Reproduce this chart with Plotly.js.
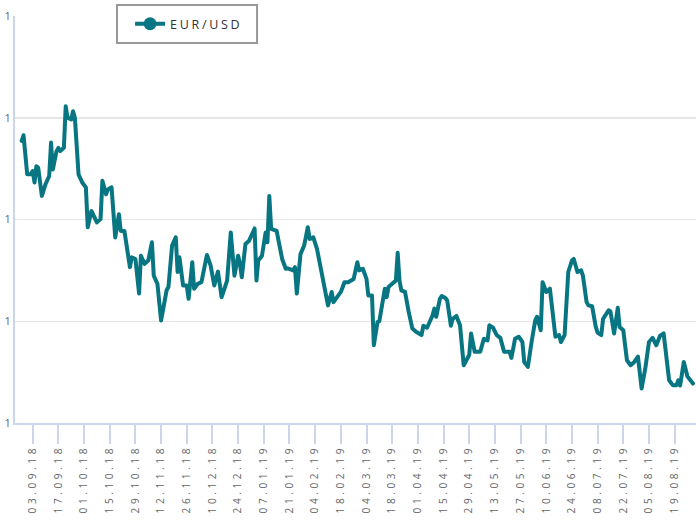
<!DOCTYPE html>
<html>
<head>
<meta charset="utf-8">
<script src="https://cdn.plot.ly/plotly-3.0.1.min.js"></script>
<style>
  html, body { margin: 0; padding: 0; background: #fff; }
  #chart { width: 696px; height: 523px; }
  .legendtext { letter-spacing: 2.7px; }
  .xtick text { letter-spacing: 3.6px; }
  .scatterlayer .js-line { stroke-linejoin: round; stroke-linecap: round; }
</style>
</head>
<body>
<div id="chart"></div>
<script>
// EUR/USD rate
const dates = [
  '2018-08-28','2018-08-29','2018-08-31','2018-09-02','2018-09-03','2018-09-04','2018-09-05','2018-09-06','2018-09-08','2018-09-10',
  '2018-09-12','2018-09-13','2018-09-14','2018-09-16','2018-09-17','2018-09-18','2018-09-20','2018-09-21','2018-09-22','2018-09-24',
  '2018-09-25','2018-09-26','2018-09-28','2018-09-30','2018-10-02','2018-10-03','2018-10-05','2018-10-08','2018-10-10','2018-10-11',
  '2018-10-13','2018-10-14','2018-10-16','2018-10-17','2018-10-18','2018-10-20','2018-10-21','2018-10-23','2018-10-25','2018-10-26',
  '2018-10-27','2018-10-29','2018-10-31','2018-11-01','2018-11-03','2018-11-05','2018-11-07','2018-11-08','2018-11-10','2018-11-12',
  '2018-11-15','2018-11-16','2018-11-18','2018-11-20','2018-11-21','2018-11-22','2018-11-24','2018-11-26','2018-11-27','2018-11-29',
  '2018-11-30','2018-12-02','2018-12-04','2018-12-07','2018-12-09','2018-12-11','2018-12-13','2018-12-15','2018-12-18','2018-12-20',
  '2018-12-22','2018-12-24','2018-12-25','2018-12-26','2018-12-28','2018-12-30','2019-01-02','2019-01-03','2019-01-04','2019-01-06',
  '2019-01-08','2019-01-09','2019-01-10','2019-01-11','2019-01-14','2019-01-17','2019-01-19','2019-01-20','2019-01-23','2019-01-24',
  '2019-01-25','2019-01-27','2019-01-29','2019-01-31','2019-02-01','2019-02-03','2019-02-05','2019-02-08','2019-02-09','2019-02-11',
  '2019-02-13','2019-02-14','2019-02-18','2019-02-20','2019-02-22','2019-02-25','2019-02-27','2019-02-28','2019-03-02','2019-03-04',
  '2019-03-05','2019-03-07','2019-03-08','2019-03-10','2019-03-11','2019-03-14','2019-03-15','2019-03-16','2019-03-18','2019-03-20',
  '2019-03-21','2019-03-22','2019-03-23','2019-03-25','2019-03-27','2019-03-29','2019-03-31','2019-04-03','2019-04-04','2019-04-06',
  '2019-04-09','2019-04-10','2019-04-11','2019-04-13','2019-04-14','2019-04-16','2019-04-17','2019-04-19','2019-04-20','2019-04-22',
  '2019-04-24','2019-04-26','2019-04-29','2019-04-30','2019-05-02','2019-05-05','2019-05-07','2019-05-09','2019-05-10','2019-05-12',
  '2019-05-14','2019-05-16','2019-05-18','2019-05-21','2019-05-22','2019-05-24','2019-05-26','2019-05-28','2019-05-29','2019-05-31',
  '2019-06-02','2019-06-04','2019-06-05','2019-06-07','2019-06-08','2019-06-10','2019-06-12','2019-06-13','2019-06-15','2019-06-17',
  '2019-06-18','2019-06-20','2019-06-22','2019-06-24','2019-06-25','2019-06-27','2019-06-29','2019-06-30','2019-07-02','2019-07-03',
  '2019-07-05','2019-07-07','2019-07-08','2019-07-10','2019-07-11','2019-07-14','2019-07-15','2019-07-17','2019-07-19','2019-07-20',
  '2019-07-22','2019-07-24','2019-07-26','2019-07-28','2019-07-30','2019-08-01','2019-08-03','2019-08-05','2019-08-07','2019-08-09',
  '2019-08-11','2019-08-13','2019-08-15','2019-08-16','2019-08-18','2019-08-20','2019-08-21','2019-08-22','2019-08-24','2019-08-26',
  '2019-08-29'
];
const eurUsd = [
  1.1693,1.1707,1.1611,1.1611,1.1619,1.1591,1.1631,1.1627,1.1558,1.1587,
  1.1607,1.1689,1.1623,1.1668,1.1676,1.1668,1.1676,1.1778,1.1750,1.1746,
  1.1766,1.1750,1.1611,1.1591,1.1579,1.1481,1.1521,1.1493,1.1501,1.1595,
  1.1562,1.1574,1.1579,1.1521,1.1456,1.1513,1.1472,1.1472,1.1407,1.1383,
  1.1407,1.1403,1.1318,1.1411,1.1391,1.1399,1.1444,1.1362,1.1342,1.1252,
  1.1326,1.1334,1.1436,1.1456,1.1371,1.1407,1.1338,1.1338,1.1305,1.1395,
  1.1330,1.1342,1.1346,1.1413,1.1387,1.1338,1.1372,1.1309,1.1350,1.1468,
  1.1362,1.1411,1.1391,1.1358,1.1440,1.1448,1.1478,1.1350,1.1399,1.1411,
  1.1468,1.1444,1.1558,1.1477,1.1472,1.1403,1.1379,1.1380,1.1375,1.1383,
  1.1318,1.1415,1.1436,1.1481,1.1452,1.1456,1.1428,1.1362,1.1342,1.1289,
  1.1322,1.1297,1.1322,1.1346,1.1346,1.1354,1.1395,1.1375,1.1379,1.1354,
  1.1313,1.1313,1.1191,1.1248,1.1250,1.1330,1.1309,1.1334,1.1342,1.1350,
  1.1418,1.1350,1.1326,1.1322,1.1273,1.1232,1.1224,1.1216,1.1239,1.1234,
  1.1264,1.1281,1.1261,1.1305,1.1312,1.1307,1.1301,1.1239,1.1256,1.1263,
  1.1240,1.1142,1.1167,1.1220,1.1175,1.1175,1.1207,1.1203,1.1240,1.1234,
  1.1216,1.1209,1.1175,1.1175,1.1160,1.1207,1.1212,1.1199,1.1150,1.1138,
  1.1199,1.1252,1.1261,1.1228,1.1346,1.1322,1.1330,1.1285,1.1212,1.1216,
  1.1199,1.1216,1.1371,1.1399,1.1403,1.1371,1.1375,1.1362,1.1297,1.1289,
  1.1287,1.1236,1.1222,1.1216,1.1256,1.1277,1.1274,1.1220,1.1283,1.1236,
  1.1228,1.1154,1.1142,1.1150,1.1163,1.1085,1.1134,1.1199,1.1209,1.1191,
  1.1214,1.1220,1.1154,1.1105,1.1093,1.1093,1.1105,1.1092,1.1150,1.1114,
  1.1097
];
const seriesName = 'EUR/USD';
const yTickVals = [1.1, 1.125, 1.15, 1.175, 1.2];
const yTickText = ['1', '1', '1', '1', '1'];
const xFirstTick = '2018-09-03';

const teal = '#087682';
const axisBlue = '#ccd6eb';

const traces = [
  {
    x: dates, y: eurUsd, type: 'scatter', mode: 'lines',
    line: { color: teal, width: 4 },
    showlegend: false, hoverinfo: 'x+y'
  },
  {
    x: [null], y: [null], type: 'scatter', mode: 'lines+markers',
    name: seriesName,
    line: { color: teal, width: 4 },
    marker: { color: teal, size: 13 },
    showlegend: true
  }
];

const layout = {
  width: 696, height: 523,
  margin: { l: 15, r: 0, t: 16, b: 100, pad: 0 },
  paper_bgcolor: '#ffffff', plot_bgcolor: '#ffffff',
  font: { family: 'Open Sans, sans-serif', color: '#666666' },
  showlegend: true,
  legend: {
    x: 0.169, xanchor: 'left', y: 0.98, yanchor: 'middle',
    orientation: 'h', bgcolor: 'rgba(0,0,0,0)', borderwidth: 0,
    font: { size: 12.5, color: '#333333', family: 'Open Sans, sans-serif' }
  },
  shapes: [{
    type: 'rect', xref: 'paper', yref: 'paper',
    x0: 0.1498, x1: 0.3554, y0: 0.9337, y1: 1.027,
    line: { color: '#999999', width: 2 }, fillcolor: 'rgba(0,0,0,0)'
  }],
  xaxis: {
    type: 'date',
    range: ['2018-08-24 08:24', '2019-08-30 15:36'],
    tick0: xFirstTick, dtick: 14 * 86400000,
    tickformat: '%d.%m.%y', tickangle: -90,
    ticks: 'outside', ticklen: 19, tickwidth: 2, tickcolor: axisBlue,
    ticklabelstandoff: -3,
    showline: true, linecolor: axisBlue, linewidth: 2,
    showgrid: false, zeroline: false,
    tickfont: { size: 10, color: '#666666', family: 'Open Sans, sans-serif' }
  },
  yaxis: {
    range: [1.1, 1.2],
    tickmode: 'array', tickvals: yTickVals, ticktext: yTickText,
    ticks: '', showline: true, linecolor: axisBlue, linewidth: 2,
    showgrid: true, gridcolor: '#e6e6e6', gridwidth: 1.5,
    zeroline: false,
    tickfont: { size: 11, color: '#666666', family: 'Open Sans, sans-serif' }
  }
};

Plotly.newPlot('chart', traces, layout, { displayModeBar: false, staticPlot: true });
</script>
</body>
</html>
